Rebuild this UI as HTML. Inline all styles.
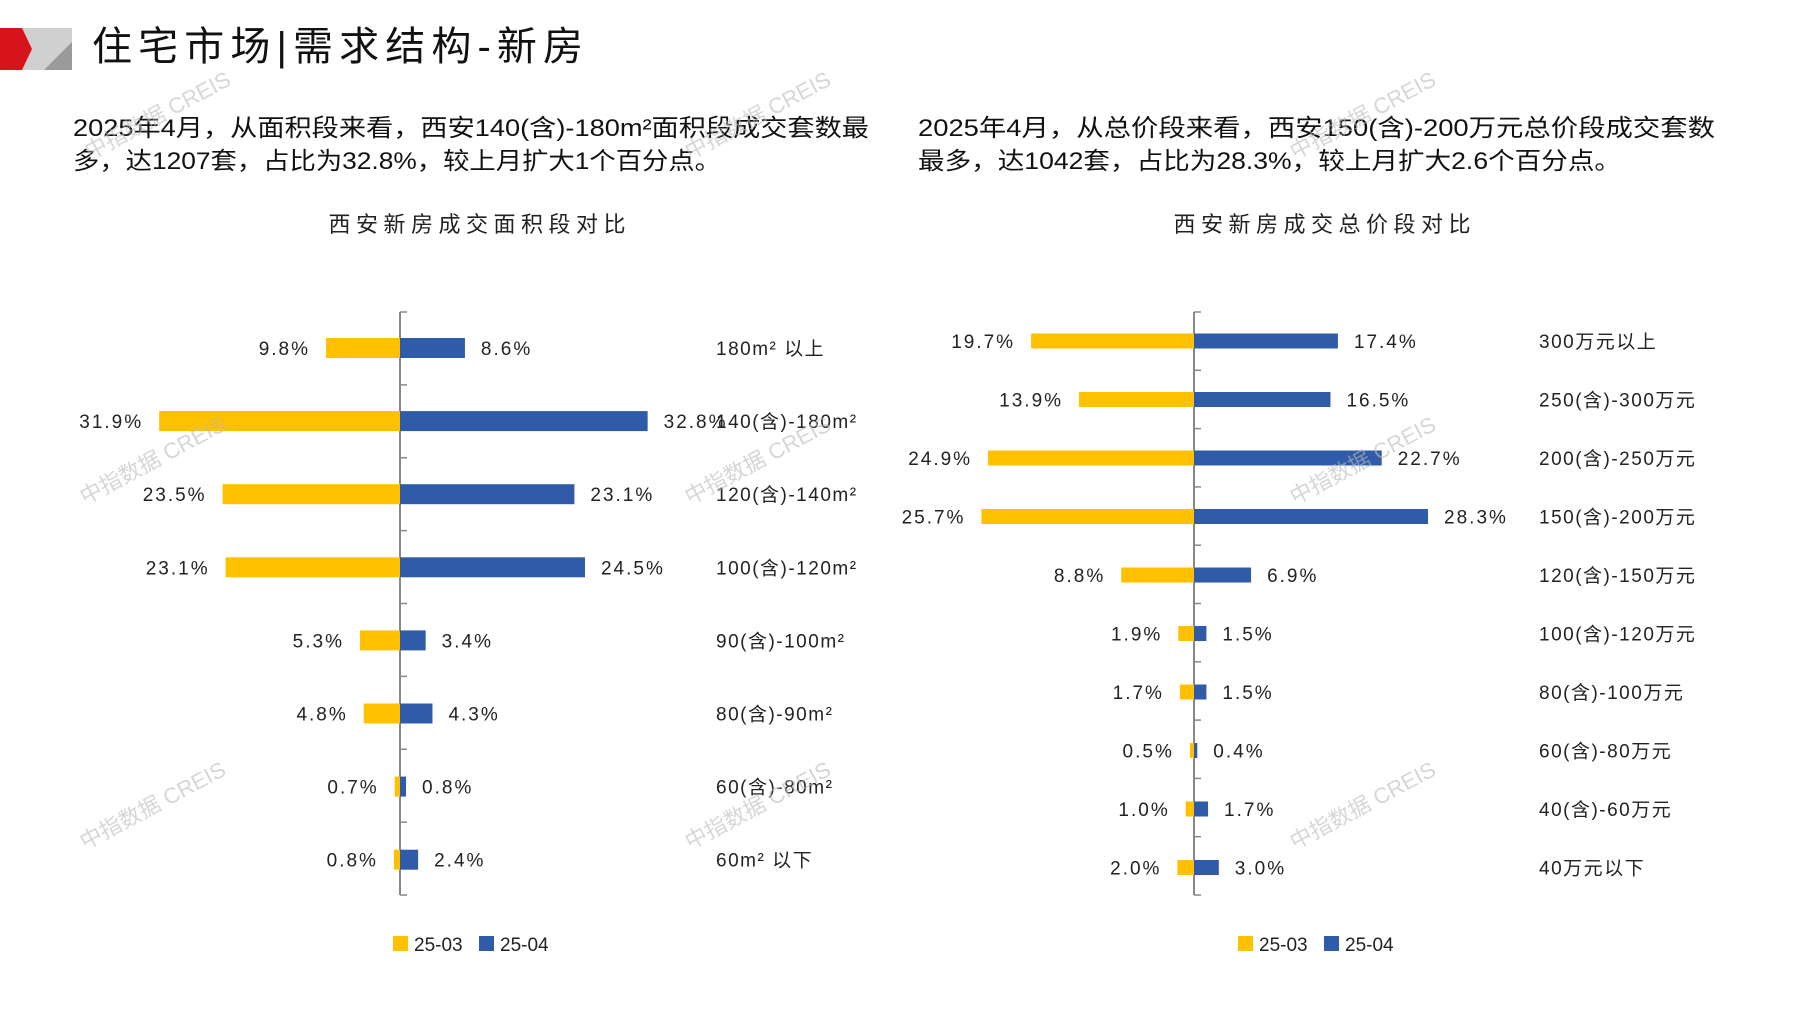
<!DOCTYPE html>
<html><head><meta charset="utf-8"><style>
body{margin:0;background:#fff;}
svg text{font-family:"Liberation Sans","Noto Sans CJK SC",sans-serif;}
</style></head><body>
<svg width="1797" height="1010" xmlns="http://www.w3.org/2000/svg">
<rect width="1797" height="1010" fill="#fff"/>
<polygon points="0,28 72,28 72,70 0,70" fill="#d0d0d0"/>
<polygon points="44,70 72,42 72,70" fill="#9a9a9a"/>
<polygon points="0,28 22,28 32,49 22,70 0,70" fill="#d7141c"/>
<text x="92" y="60" font-size="40" fill="#111" textLength="491" lengthAdjust="spacing">住宅市场|需求结构-新房</text>
<g font-size="24" fill="#111">
<text x="73" y="136" textLength="796" lengthAdjust="spacingAndGlyphs">2025年4月，从面积段来看，西安140(含)-180m²面积段成交套数最</text>
<text x="73" y="169" textLength="648" lengthAdjust="spacingAndGlyphs">多，达1207套，占比为32.8%，较上月扩大1个百分点。</text>
<text x="918" y="136" textLength="797" lengthAdjust="spacingAndGlyphs">2025年4月，从总价段来看，西安150(含)-200万元总价段成交套数</text>
<text x="918" y="169" textLength="703" lengthAdjust="spacingAndGlyphs">最多，达1042套，占比为28.3%，较上月扩大2.6个百分点。</text>
</g>
<g font-size="22" fill="#222" text-anchor="middle">
<text x="477" y="232" textLength="297">西安新房成交面积段对比</text>
<text x="1322" y="232" textLength="297">西安新房成交总价段对比</text>
</g>
<g id="L" font-size="19" fill="#222"></g>
<g id="R" font-size="19" fill="#222"></g>
<g font-size="19" fill="#222">
<rect x="393" y="936" width="15" height="15" fill="#FFC000"/><text x="414" y="951">25-03</text>
<rect x="479" y="936" width="15" height="15" fill="#2F5BA8"/><text x="500" y="951">25-04</text>
<rect x="1238" y="936" width="15" height="15" fill="#FFC000"/><text x="1259" y="951">25-03</text>
<rect x="1324" y="936" width="15" height="15" fill="#2F5BA8"/><text x="1345" y="951">25-04</text>
</g>
<g font-size="22" fill="#bbb" opacity="0.6">
<text transform="translate(90,160) rotate(-28)">中指数据 CREIS</text>
<text transform="translate(690,160) rotate(-28)">中指数据 CREIS</text>
<text transform="translate(1295,160) rotate(-28)">中指数据 CREIS</text>
<text transform="translate(85,505) rotate(-28)">中指数据 CREIS</text>
<text transform="translate(690,505) rotate(-28)">中指数据 CREIS</text>
<text transform="translate(1295,505) rotate(-28)">中指数据 CREIS</text>
<text transform="translate(85,850) rotate(-28)">中指数据 CREIS</text>
<text transform="translate(690,850) rotate(-28)">中指数据 CREIS</text>
<text transform="translate(1295,850) rotate(-28)">中指数据 CREIS</text>
</g>
</svg>
<script>
function chart(id,ax,top,bot,rows,y0,dy,bh,k,lx,data){
 var g=document.getElementById(id),s='';
 s+='<line x1="'+ax+'" y1="'+top+'" x2="'+ax+'" y2="'+bot+'" stroke="#888" stroke-width="2"/>';
 var n=data.length,step=(bot-top)/n;
 for(var i=0;i<=n;i++){var ty=top+i*step;s+='<line x1="'+ax+'" y1="'+ty+'" x2="'+(ax+7)+'" y2="'+ty+'" stroke="#888" stroke-width="1.5"/>';}
 data.forEach(function(d,i){var y=y0+i*dy;var a=d[1]*k,b=d[2]*k;
  s+='<rect x="'+(ax-a)+'" y="'+(y-bh/2)+'" width="'+a+'" height="'+bh+'" fill="#FFC000"/>';
  s+='<rect x="'+ax+'" y="'+(y-bh/2)+'" width="'+b+'" height="'+bh+'" fill="#2F5BA8"/>';
  s+='<text x="'+(ax-a-16)+'" y="'+(y+7)+'" text-anchor="end" letter-spacing="2">'+d[1].toFixed(1)+'%</text>';
  s+='<text x="'+(ax+b+16)+'" y="'+(y+7)+'" letter-spacing="2">'+d[2].toFixed(1)+'%</text>';
  s+='<text x="'+lx+'" y="'+(y+7)+'" letter-spacing="1.5">'+d[0]+'</text>';});
 g.innerHTML=s;}
chart('L',400,312,895,8,348,73.1,20,7.55,716,[['180m² 以上',9.8,8.6],['140(含)-180m²',31.9,32.8],['120(含)-140m²',23.5,23.1],['100(含)-120m²',23.1,24.5],['90(含)-100m²',5.3,3.4],['80(含)-90m²',4.8,4.3],['60(含)-80m²',0.7,0.8],['60m² 以下',0.8,2.4]]);
chart('R',1194,312,895,10,341,58.5,15,8.27,1539,[['300万元以上',19.7,17.4],['250(含)-300万元',13.9,16.5],['200(含)-250万元',24.9,22.7],['150(含)-200万元',25.7,28.3],['120(含)-150万元',8.8,6.9],['100(含)-120万元',1.9,1.5],['80(含)-100万元',1.7,1.5],['60(含)-80万元',0.5,0.4],['40(含)-60万元',1.0,1.7],['40万元以下',2.0,3.0]]);
</script>
</body></html>
